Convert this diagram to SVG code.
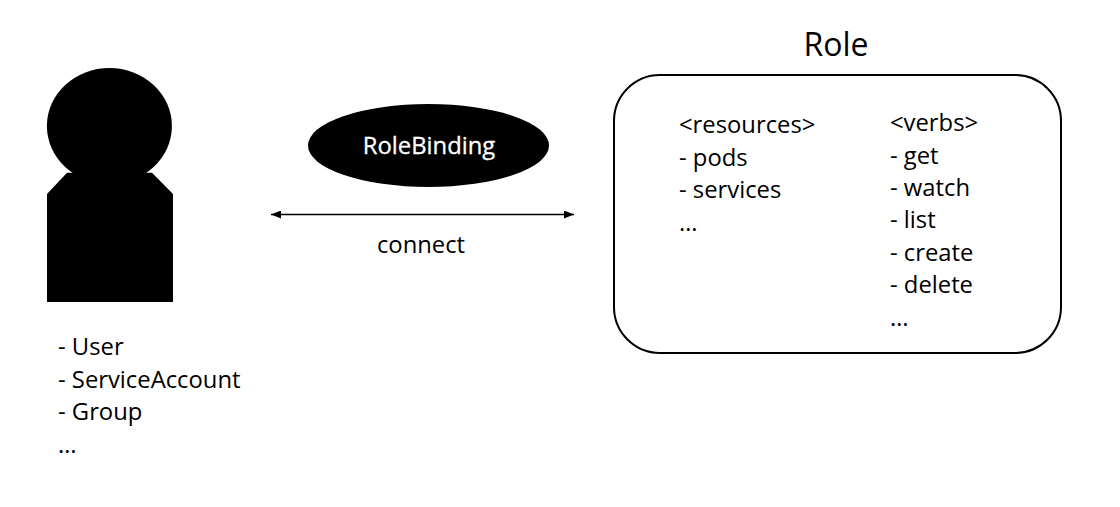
<svg xmlns="http://www.w3.org/2000/svg" width="1120" height="507" viewBox="0 0 1120 507">
<style>
text{font-family:"Open Sans","Noto Sans",sans-serif;font-size:23.8px;fill:#000}
.c{text-anchor:middle}
</style>
<defs>
<marker id="a" viewBox="0 0 10 8" refX="10" refY="4" markerWidth="10" markerHeight="8" markerUnits="userSpaceOnUse" orient="auto-start-reverse"><path d="M0 0L10 4L0 8Z" fill="#000"/></marker>
</defs>
<rect width="1120" height="507" fill="#fff"/>
<g id="user">
<ellipse cx="109.400" cy="126" rx="62.500" ry="58" fill="#000"/>
<path d="M67 172.700H152L173 194V302H47V194Z" fill="#000"/>
<text x="58" y="355">- User</text>
<text x="58" y="388">- ServiceAccount</text>
<text x="58" y="420">- Group</text>
<text x="58" y="453">…</text>
</g>
<g id="rolebinding">
<ellipse cx="428.500" cy="145.500" rx="120.500" ry="41.500" fill="#000"/>
<text x="429" y="154" class="c" style="fill:#fff;stroke:#fff;stroke-width:.3">RoleBinding</text>
</g>
<g id="connectors">
<line x1="271" y1="214.500" x2="574" y2="214.500" stroke="#000" stroke-width="1.300" marker-start="url(#a)" marker-end="url(#a)"/>
<text x="421" y="253" class="c">connect</text>
</g>
<g id="role">
<text x="836" y="56" class="c" style="font-size:32px">Role</text>
<rect x="614" y="75" width="447" height="278" rx="46" fill="#fff" stroke="#000" stroke-width="2"/>
<text x="679" y="133">&lt;resources&gt;</text>
<text x="679" y="166">- pods</text>
<text x="679" y="198">- services</text>
<text x="679" y="231">…</text>
<text x="890" y="131">&lt;verbs&gt;</text>
<text x="890" y="164">- get</text>
<text x="890" y="196">- watch</text>
<text x="890" y="228">- list</text>
<text x="890" y="261">- create</text>
<text x="890" y="293">- delete</text>
<text x="890" y="326">…</text>
</g>
</svg>
